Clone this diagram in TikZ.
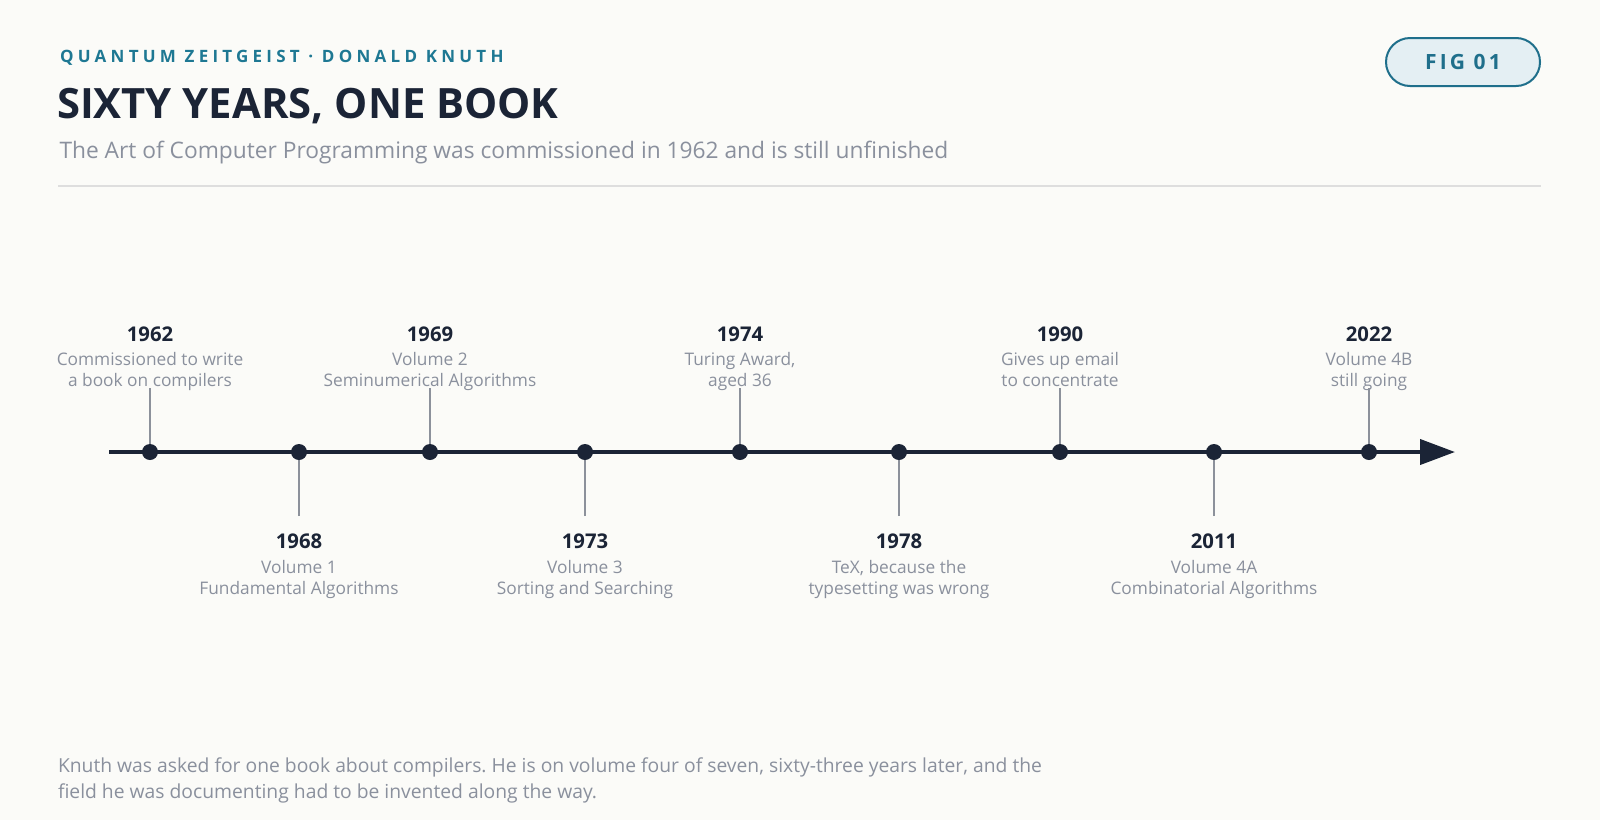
\documentclass[tikz,border=0pt]{standalone}
\usepackage{fontspec}
\setmainfont{Open Sans}
\newfontfamily\kickfont[LetterSpace=25]{Open Sans}
\newfontfamily\figfont[LetterSpace=15]{Open Sans}
\usetikzlibrary{arrows.meta}
\frenchspacing
\definecolor{bg}{HTML}{FBFBF8}
\definecolor{navy}{HTML}{1B2436}
\definecolor{teal}{HTML}{1E7893}
\definecolor{muted}{HTML}{8A909D}
\definecolor{stemc}{HTML}{8C919B}
\definecolor{rulec}{HTML}{DEDEDE}
\definecolor{pillfill}{HTML}{E4EFF3}
\definecolor{pillborder}{HTML}{1F6F8B}
\begin{document}
\frenchspacing
\begin{tikzpicture}[x=1pt,y=-1pt,
  txt/.style={inner sep=0pt, outer sep=0pt},
  yearlbl/.style={txt, anchor=base, text=navy, font=\bfseries\fontsize{20.3}{24}\selectfont},
  desclbl/.style={txt, anchor=base, text=muted, font=\fontsize{17.3}{20}\selectfont},
  stemline/.style={draw=stemc, line width=1.5pt},
  dotnode/.style={circle, fill=navy, minimum size=16pt, inner sep=0pt},
  axisline/.style={draw=navy, line width=4pt, -{Triangle[length=35pt,width=25pt]}}
]
\fill[bg] (0,0) rectangle (1600,820);
\useasboundingbox (0,0) rectangle (1600,820);

% header
\node[txt, anchor=base west, text=teal, font=\kickfont\bfseries\fontsize{17}{20}\selectfont] (kicker) at (60,62) {QUANTUM ZEITGEIST · DONALD KNUTH};
\node[txt, anchor=base west, text=navy, font=\bfseries\fontsize{41.8}{48}\selectfont] (title) at (57,118) {SIXTY YEARS, ONE BOOK};
\node[txt, anchor=base west, text=muted, font=\fontsize{22.75}{27}\selectfont] (subtitle) at (59.5,158) {The Art of Computer Programming was commissioned in 1962 and is still unfinished};
\coordinate (r0) at (58,186);
\coordinate (r1) at (1541,186);
\draw[rulec, line width=1.5pt] (r0) -- (r1);

\node[draw=pillborder, fill=pillfill, line width=2pt, rounded corners=24pt, minimum width=154pt, minimum height=48pt, inner sep=0pt, text=pillborder, font=\figfont\bfseries\fontsize{21}{25}\selectfont] (fig) at (1463,62) {FIG 01};

% timeline axis
\coordinate (a0) at (109,452);
\coordinate (a1) at (1455,452);

\foreach \x/\yr/\la/\lb/\up [count=\i] in {
  150/1962/{Commissioned to write}/{a book on compilers}/1,
  299/1968/{Volume 1}/{Fundamental Algorithms}/0,
  430/1969/{Volume 2}/{Seminumerical Algorithms}/1,
  585/1973/{Volume 3}/{Sorting and Searching}/0,
  740/1974/{Turing Award,}/{aged 36}/1,
  899/1978/{TeX, because the}/{typesetting was wrong}/0,
  1060/1990/{Gives up email}/{to concentrate}/1,
  1214/2011/{Volume 4A}/{Combinatorial Algorithms}/0,
  1369/2022/{Volume 4B}/{still going}/1}{
  \ifnum\up=1
    \coordinate (s\i) at (\x,388);
    \node[yearlbl] (y\i) at (\x,341) {\yr};
    \node[desclbl] (da\i) at (\x,365) {\la};
    \node[desclbl] (db\i) at (\x,386) {\lb};
  \else
    \coordinate (s\i) at (\x,516);
    \node[yearlbl] (y\i) at (\x,548) {\yr};
    \node[desclbl] (da\i) at (\x,573) {\la};
    \node[desclbl] (db\i) at (\x,594) {\lb};
  \fi
  \coordinate (c\i) at (\x,452);
  \draw[stemline] (s\i) -- (c\i);
}
\draw[axisline] (a0) -- (a1);
\foreach \x [count=\i] in {150,299,430,585,740,899,1060,1214,1369}{
  \node[dotnode] (p\i) at (\x,452) {};
}

% footer
\node[txt, anchor=base west, text=muted, font=\fontsize{19.3}{26}\selectfont] (foot1) at (58,772) {Knuth was asked for one book about compilers. He is on volume four of seven, sixty-three years later, and the};
\node[txt, anchor=base west, text=muted, font=\fontsize{19.3}{26}\selectfont] (foot2) at (58,798) {field he was documenting had to be invented along the way.};
\end{tikzpicture}
\end{document}
